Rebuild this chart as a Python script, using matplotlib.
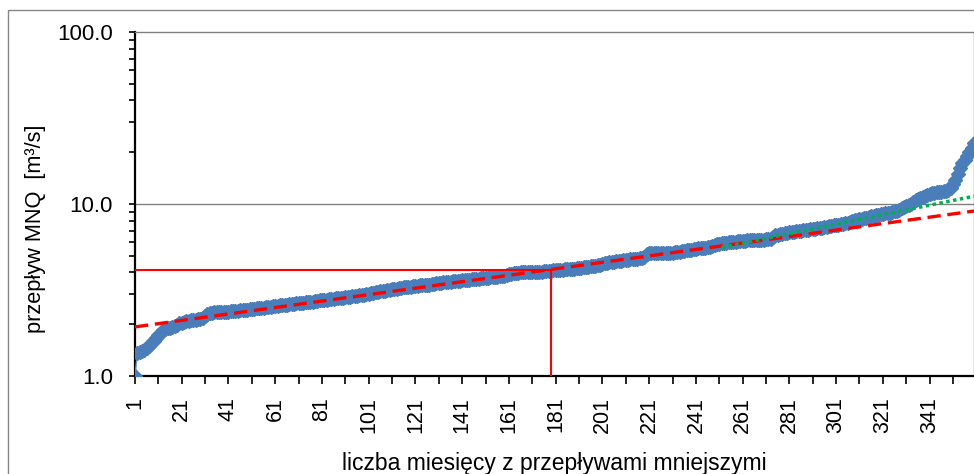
import numpy as np
import matplotlib.pyplot as plt
from matplotlib.patches import Rectangle
from matplotlib.ticker import FixedLocator, FixedFormatter, LogLocator, NullFormatter

plt.rcParams['font.family'] = ['Liberation Sans', 'DejaVu Sans']

# Sorted monthly low flows MNQ [m3/s], month 1 .. 360
mnq = [
    1.00, 1.36, 1.37, 1.39, 1.42, 1.46, 1.50, 1.55, 1.60, 1.66,
    1.72, 1.78, 1.84, 1.87, 1.89, 1.91, 1.93, 1.96, 1.99, 2.02,
    2.04, 2.06, 2.08, 2.10, 2.11, 2.12, 2.13, 2.14, 2.15, 2.17,
    2.22, 2.28, 2.32, 2.33, 2.34, 2.34, 2.35, 2.35, 2.36, 2.36,
    2.37, 2.38, 2.38, 2.39, 2.40, 2.41, 2.42, 2.42, 2.43, 2.44,
    2.45, 2.46, 2.47, 2.48, 2.49, 2.50, 2.51, 2.52, 2.53, 2.54,
    2.55, 2.56, 2.57, 2.58, 2.59, 2.60, 2.61, 2.62, 2.63, 2.64,
    2.65, 2.66, 2.67, 2.68, 2.69, 2.70, 2.71, 2.72, 2.73, 2.75,
    2.76, 2.77, 2.78, 2.80, 2.81, 2.82, 2.83, 2.84, 2.85, 2.86,
    2.87, 2.88, 2.89, 2.90, 2.91, 2.93, 2.94, 2.95, 2.97, 2.98,
    3.00, 3.02, 3.04, 3.06, 3.08, 3.10, 3.12, 3.14, 3.16, 3.18,
    3.19, 3.21, 3.22, 3.24, 3.25, 3.27, 3.29, 3.30, 3.31, 3.33,
    3.34, 3.35, 3.36, 3.37, 3.38, 3.39, 3.40, 3.41, 3.43, 3.45,
    3.47, 3.48, 3.50, 3.51, 3.52, 3.54, 3.55, 3.56, 3.58, 3.59,
    3.60, 3.61, 3.62, 3.63, 3.64, 3.66, 3.67, 3.68, 3.70, 3.71,
    3.72, 3.73, 3.74, 3.75, 3.76, 3.77, 3.79, 3.81, 3.83, 3.86,
    3.90, 3.94, 3.97, 3.98, 3.99, 4.00, 4.01, 4.01, 4.02, 4.02,
    4.03, 4.03, 4.04, 4.04, 4.05, 4.06, 4.07, 4.08, 4.10, 4.12,
    4.13, 4.14, 4.15, 4.16, 4.17, 4.18, 4.19, 4.19, 4.20, 4.22,
    4.24, 4.26, 4.28, 4.30, 4.32, 4.34, 4.36, 4.38, 4.41, 4.44,
    4.48, 4.51, 4.54, 4.57, 4.60, 4.62, 4.64, 4.66, 4.68, 4.70,
    4.72, 4.74, 4.76, 4.78, 4.80, 4.82, 4.85, 4.88, 4.95, 5.10,
    5.16, 5.17, 5.18, 5.18, 5.19, 5.19, 5.20, 5.20, 5.21, 5.21,
    5.22, 5.23, 5.25, 5.28, 5.31, 5.34, 5.37, 5.40, 5.43, 5.46,
    5.49, 5.52, 5.54, 5.56, 5.58, 5.60, 5.63, 5.68, 5.75, 5.82,
    5.88, 5.92, 5.94, 5.96, 5.98, 6.00, 6.02, 6.04, 6.06, 6.08,
    6.10, 6.12, 6.14, 6.15, 6.16, 6.17, 6.18, 6.19, 6.20, 6.21,
    6.22, 6.23, 6.30, 6.45, 6.58, 6.62, 6.66, 6.70, 6.75, 6.80,
    6.85, 6.88, 6.92, 6.95, 6.98, 7.01, 7.04, 7.07, 7.10, 7.13,
    7.16, 7.19, 7.22, 7.26, 7.30, 7.34, 7.38, 7.42, 7.46, 7.50,
    7.54, 7.58, 7.62, 7.67, 7.73, 7.80, 7.88, 7.96, 8.04, 8.10,
    8.16, 8.22, 8.28, 8.34, 8.40, 8.46, 8.52, 8.58, 8.64, 8.70,
    8.76, 8.82, 8.86, 8.90, 8.96, 9.05, 9.15, 9.28, 9.42, 9.55,
    9.68, 9.85, 10.05, 10.30, 10.50, 10.70, 10.90, 11.05, 11.20, 11.35,
    11.45, 11.55, 11.62, 11.68, 11.72, 11.78, 11.85, 11.95, 12.10, 12.40,
    13.00, 13.80, 14.90, 16.20, 17.20, 18.10, 19.00, 20.00, 21.20, 22.50,
]
months = np.arange(1, len(mnq) + 1)

# exponential trend lines q = a * exp(b * month)
trend_all = (1.922, 0.00432)            # whole record
trend_high = (1.135, 0.006334, 252)     # upper part, from month 252

# median low flow marker
median_month = 179
median_q = 4.16

tick_months = list(range(1, 361, 10))
tick_labels = [str(m) if (m - 1) % 20 == 0 else '' for m in tick_months]

fig = plt.figure(figsize=(9.74, 4.74), dpi=100)
ax = fig.add_axes([135 / 974, 1 - 376 / 474, 839 / 974, 344 / 474])

# outer chart frame
fig.patches.append(Rectangle((8 / 974, -0.1), 1.1, 1.1 - 10 / 474, transform=fig.transFigure,
                             fill=False, edgecolor='#868686', linewidth=1.0))

ax.plot(months, mnq, color='#5B9BD5', linewidth=1.0, marker='D', markersize=7,
        markerfacecolor='#4A7EBB', markeredgecolor='#4A7EBB', zorder=3)

m_all = np.array([1, 360])
ax.plot(m_all, trend_all[0] * np.exp(trend_all[1] * m_all), color='#FF0000',
        linewidth=2.4, dashes=(4, 2), zorder=4)
m_high = np.array([trend_high[2], 360])
ax.plot(m_high, trend_high[0] * np.exp(trend_high[1] * m_high), color='#00B050',
        linewidth=2.5, dashes=(1, 1), zorder=5)

ax.plot([1, median_month], [median_q, median_q], color='#FF0000', linewidth=1.5, zorder=6)
ax.plot([median_month, median_month], [1, median_q], color='#FF0000', linewidth=1.5, zorder=6)

ax.set_yscale('log')
ax.set_ylim(1, 100)
ax.set_xlim(1, 360)
ax.yaxis.set_major_locator(FixedLocator([1, 10, 100]))
ax.yaxis.set_major_formatter(FixedFormatter(['1.0', '10.0', '100.0']))
ax.yaxis.set_minor_locator(LogLocator(base=10, subs=np.arange(2, 10)))
ax.yaxis.set_minor_formatter(NullFormatter())
ax.axhline(10, color='#808080', linewidth=1.0, zorder=1)

ax.xaxis.set_major_locator(FixedLocator(tick_months))
ax.xaxis.set_major_formatter(FixedFormatter(tick_labels))
for lab in ax.get_xticklabels():
    lab.set_rotation(90)

ax.tick_params(axis='both', which='both', direction='out', color='black', width=1.2)
ax.tick_params(axis='y', which='both', length=4, pad=12, labelsize=16)
ax.tick_params(axis='x', length=6, pad=9, labelsize=15.5)

for side in ('left', 'bottom'):
    ax.spines[side].set_color('black')
    ax.spines[side].set_linewidth(1.6)
for side in ('top', 'right'):
    ax.spines[side].set_color('#808080')
    ax.spines[side].set_linewidth(1.0)

ax.set_xlabel('liczba miesięcy z przepływami mniejszymi', fontsize=16.5)
ax.xaxis.set_label_coords(0.5, -0.253)
ax.xaxis.label.set_va('center')
ax.set_ylabel('przepływ MNQ  [m³/s]', fontsize=15.7)
ax.yaxis.set_label_coords(-0.119, 0.427)
ax.yaxis.label.set_va('center')

fig.savefig('out.png', dpi=100)
